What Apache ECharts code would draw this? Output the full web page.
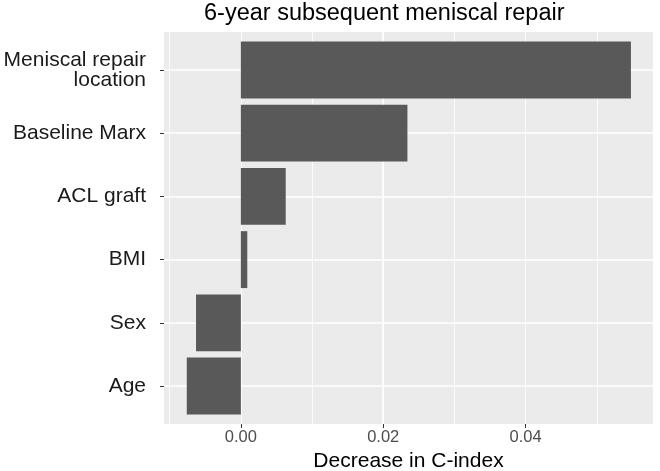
<!DOCTYPE html>
<html><head><meta charset="utf-8">
<script src="https://cdn.jsdelivr.net/npm/echarts@6/dist/echarts.min.js"></script>
<style>html,body{margin:0;padding:0;background:#fff}#c{width:660px;height:471px}</style>
</head><body><div id="c"></div>
<script>
// ---- data ----
const categories = ['Meniscal repair\nlocation', 'Baseline Marx', 'ACL graft', 'BMI', 'Sex', 'Age'];
const decrease = [0.0548, 0.0234, 0.0063, 0.0009, -0.0063, -0.0076];
const xTicks = [0, 0.02, 0.04];
const xMin = -0.0108;
const xMax = 0.0579;
const titleText = '6-year subsequent meniscal repair';
const xTitle = 'Decrease in C-index';

// ---- layout ----
const FONT = 'Liberation Sans, Arial, Helvetica, sans-serif';
const P = { left: 164, top: 32, width: 489, height: 392 };
const unit = P.height / (categories.length - 1 + 1.2); // ggplot discrete expansion 0.6
const chart = echarts.init(document.getElementById('c'), null, { renderer: 'canvas' });

chart.setOption({
  animation: false,
  backgroundColor: '#ffffff',
  textStyle: { fontFamily: FONT },
  title: {
    text: titleText, left: 204, top: 2, padding: 0,
    textStyle: { fontSize: 23.5, fontWeight: 'normal', color: '#000', fontFamily: FONT }
  },
  grid: [
    { left: P.left, top: P.top, width: P.width, height: P.height, show: true, backgroundColor: '#EBEBEB', borderWidth: 0, outerBoundsMode: 'none', containLabel: false },
    { left: P.left, top: P.top + 0.1 * unit, width: P.width, height: categories.length * unit, outerBoundsMode: 'none', containLabel: false },
    { left: P.left, top: P.top + 0.6 * unit, width: P.width, height: (categories.length - 1) * unit, outerBoundsMode: 'none', containLabel: false }
  ],
  xAxis: [
    { gridIndex: 0, type: 'value', position: 'bottom', min: xMin, max: xMax, minInterval: 0.01, maxInterval: 0.01,
      axisLine: { show: false, onZero: false }, axisTick: { show: false }, axisLabel: { show: false },
      splitLine: { show: true, showMinLine: false, showMaxLine: false, lineStyle: { color: '#ffffff', width: 0.8 } } },
    { gridIndex: 0, type: 'value', position: 'bottom', offset: 0, min: xMin, max: xMax, minInterval: 0.02, maxInterval: 0.02,
      axisLine: { show: false, onZero: false },
      axisTick: { show: true, length: 4, customValues: xTicks, lineStyle: { color: '#333333', width: 1 } },
      axisLabel: { show: true, customValues: xTicks, margin: 5, fontSize: 16.5, color: '#4D4D4D', fontFamily: FONT,
        formatter: v => v.toFixed(2) },
      splitLine: { show: true, showMinLine: false, showMaxLine: false, lineStyle: { color: '#ffffff', width: 1.6 } },
      name: xTitle, nameLocation: 'middle', nameGap: 24,
      nameTextStyle: { fontSize: 21, color: '#000', fontFamily: FONT } },
    { gridIndex: 1, type: 'value', min: xMin, max: xMax, show: false, splitLine: { show: false } },
    { gridIndex: 2, type: 'value', min: xMin, max: xMax, show: false, splitLine: { show: false } }
  ],
  yAxis: [
    { gridIndex: 0, type: 'value', show: false, splitLine: { show: false } },
    { gridIndex: 1, type: 'category', data: categories, inverse: true, show: false },
    { gridIndex: 2, type: 'category', position: 'left', data: categories, inverse: true, boundaryGap: false,
      axisLine: { show: false, onZero: false },
      axisTick: { show: true, length: 4, lineStyle: { color: '#333333', width: 1 } },
      axisLabel: { show: true, fontSize: 21, lineHeight: 20, color: '#1A1A1A', margin: 18, align: 'right', fontFamily: FONT },
      splitLine: { show: true, lineStyle: { color: '#ffffff', width: 1.6 } } }
  ],
  series: [{
    type: 'bar', xAxisIndex: 2, yAxisIndex: 1, data: decrease,
    barCategoryGap: '10%',
    itemStyle: { color: '#595959' },
    z: 5
  }]
});
</script></body></html>
